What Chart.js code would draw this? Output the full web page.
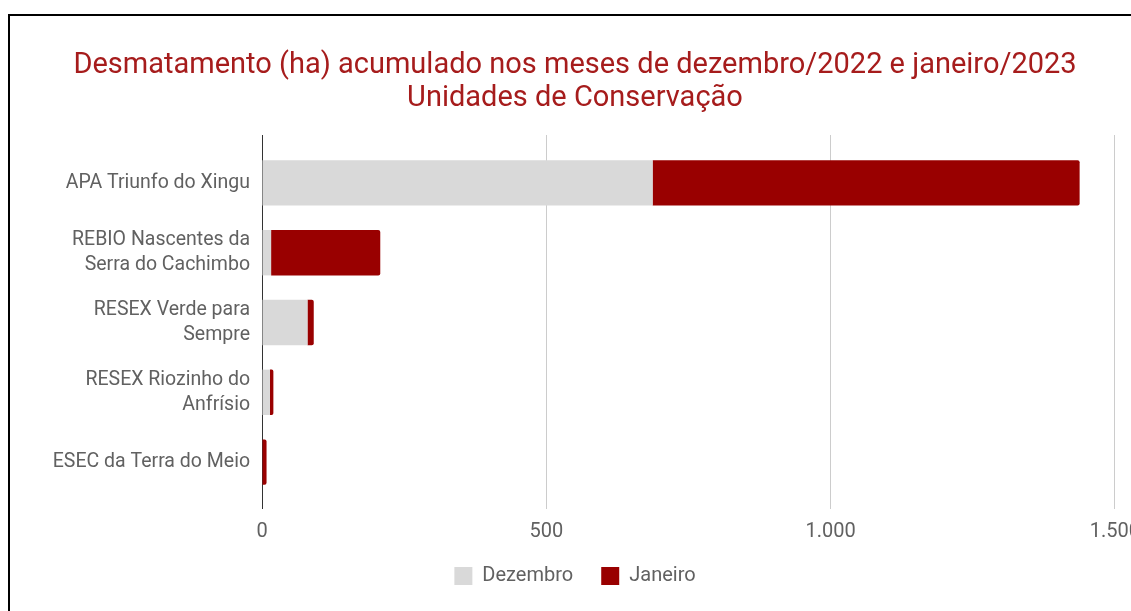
<!DOCTYPE html>
<html lang="pt-BR">
<head>
<meta charset="utf-8">
<title>Desmatamento em Unidades de Conservação</title>
<script src="https://cdn.jsdelivr.net/npm/chart.js@4.4.1/dist/chart.umd.min.js"></script>
<style>
  html, body { margin: 0; padding: 0; background: #fff; overflow: hidden; }
  .frame {
    position: absolute; left: 8px; top: 14px;
    width: 1200px; height: 700px;
    border: 2px solid #000;
  }
  .box { position: absolute; left: 10px; top: 16px; width: 1141px; height: 595px; }
</style>
</head>
<body>
<div class="frame"></div>
<div class="box"><canvas id="chart"></canvas></div>
<script>
// dados (ha)
const unidades = [
  'APA Triunfo do Xingu',
  ['REBIO Nascentes da', 'Serra do Cachimbo'],
  ['RESEX Verde para', 'Sempre'],
  ['RESEX Riozinho do', 'Anfrísio'],
  'ESEC da Terra do Meio'
];
const dezembro = [687, 16, 80, 14, 0];
const janeiro = [751, 192, 11, 6, 8];
const xTicks = [0, 500, 1000, 1500];

const titulo = [
  'Desmatamento (ha) acumulado nos meses de dezembro/2022 e janeiro/2023',
  'Unidades de Conservação'
];

function fmt(v) {
  return String(v).replace(/\B(?=(\d{3})+(?!\d))/g, '.');
}

function gridColor(ctx) {
  return ctx.tick && ctx.tick.value === 0 ? '#333333' : '#cccccc';
}

const fonte = 'Roboto, "Noto Sans", sans-serif';
const cinzaTexto = '#616161';

function tickSetup(scale) {
  scale.ticks = xTicks.map(v => ({ value: v }));
}

const ctx = document.getElementById('chart').getContext('2d');
new Chart(ctx, {
  type: 'bar',
  data: {
    labels: unidades,
    datasets: [{
      label: 'Dezembro',
      data: dezembro,
      backgroundColor: '#d9d9d9',
      borderWidth: 0,
      borderRadius: 2,
      xAxisID: 'x'
    }, {
      label: 'Janeiro',
      data: janeiro,
      backgroundColor: '#990000',
      borderWidth: 0,
      borderRadius: 2,
      xAxisID: 'x'
    }]
  },
  options: {
    indexAxis: 'y',
    responsive: true,
    maintainAspectRatio: false,
    animation: false,
    datasets: { bar: { barPercentage: 0.65, categoryPercentage: 1 } },
    layout: { padding: { left: 16, right: 27, top: 0, bottom: 15 } },
    scales: {
      x: {
        stacked: true,
        position: 'bottom',
        min: 0,
        max: 1500,
        afterBuildTicks: tickSetup,
        // os rótulos invadem o espaço da legenda, como no original
        afterFit: s => { s.height -= 17; },
        border: { display: false },
        grid: { color: gridColor, tickLength: 12, lineWidth: 1 },
        ticks: {
          padding: 11,
          color: cinzaTexto,
          font: { family: fonte, size: 20 },
          callback: v => fmt(v)
        }
      },
      xTop: {
        position: 'top',
        min: 0,
        max: 1500,
        afterBuildTicks: tickSetup,
        border: { display: false },
        grid: { color: gridColor, tickLength: 13, drawOnChartArea: false },
        ticks: { display: false }
      },
      y: {
        stacked: true,
        border: { display: false },
        grid: { display: false, drawTicks: false },
        afterFit: s => { s.width = 236; },
        ticks: {
          padding: 12,
          color: cinzaTexto,
          font: { family: fonte, size: 19.5, lineHeight: 1.28 }
        }
      }
    },
    plugins: {
      title: {
        display: true,
        text: titulo,
        color: '#a61c1c',
        font: { family: fonte, size: 29, weight: 'normal', lineHeight: 1.138 },
        padding: { top: 33, bottom: 20 }
      },
      legend: {
        position: 'bottom',
        labels: {
          boxWidth: 18,
          boxHeight: 18,
          padding: 28,
          color: cinzaTexto,
          font: { family: fonte, size: 20 }
        }
      },
      tooltip: { enabled: false }
    }
  }
});
</script>
</body>
</html>
